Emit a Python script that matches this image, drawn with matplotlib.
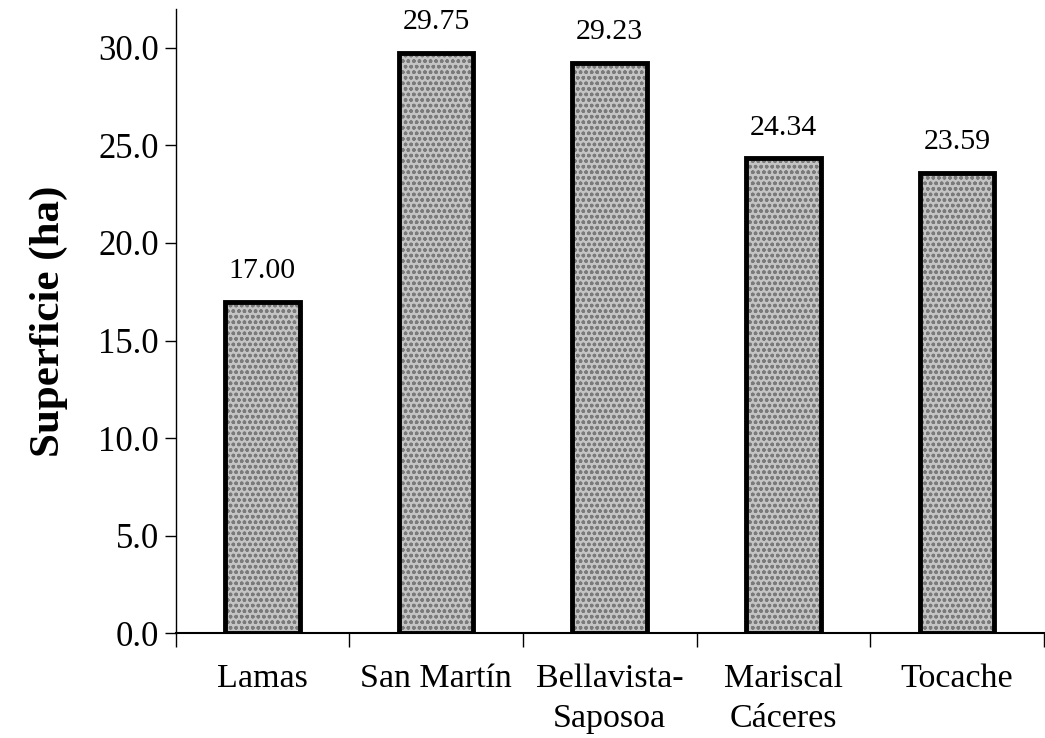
import numpy as np
import matplotlib
matplotlib.use("Agg")
import matplotlib.pyplot as plt

plt.rcParams["font.family"] = ["Liberation Serif", "DejaVu Serif"]
plt.rcParams["hatch.linewidth"] = 1.0

provincias = ["Lamas", "San Martín", "Bellavista-\nSaposoa", "Mariscal\nCáceres", "Tocache"]
superficie = [17.00, 29.75, 29.23, 24.34, 23.59]
y_ticks = [0.0, 5.0, 10.0, 15.0, 20.0, 25.0, 30.0]

fig = plt.figure(figsize=(10.45, 7.38), dpi=100)
ax = fig.add_axes([0.168, 0.142, 0.831, 0.846])

x = np.arange(len(provincias))
width = 0.43

# grey dotted fill, then a heavy black outline on top
ax.bar(x, superficie, width, color="#c4c4c4", edgecolor="#7a7a7a", hatch="ooo", linewidth=0, zorder=2)
ax.bar(x, superficie, width, fill=False, edgecolor="black", linewidth=3.5, zorder=3)

for xi, v in zip(x, superficie):
    ax.text(xi, v + 0.9, f"{v:.2f}", ha="center", va="bottom", fontsize=21.5)

ax.set_xlim(-0.5, len(provincias) - 0.5)
ax.set_ylim(0, 32)
ax.set_yticks(y_ticks)
ax.set_yticklabels([f"{t:.1f}" for t in y_ticks], fontsize=25)

# category labels centred under bars, tick marks between them
ax.set_xticks(x)
ax.set_xticklabels(provincias, fontsize=24.5, linespacing=1.4)
ax.tick_params(axis="x", length=0, pad=22)
ax.set_xticks(np.arange(-0.5, len(provincias), 1.0), minor=True)
ax.tick_params(axis="x", which="minor", length=10, width=1, direction="out")
ax.tick_params(axis="y", length=8, width=1, direction="out", pad=4)

ax.spines["top"].set_visible(False)
ax.spines["right"].set_visible(False)
ax.spines["left"].set_linewidth(1)
ax.spines["bottom"].set_linewidth(1.5)

ax.set_ylabel("Superficie (ha)", fontsize=31, fontweight="bold", labelpad=22)

fig.savefig("out.png", dpi=100)
